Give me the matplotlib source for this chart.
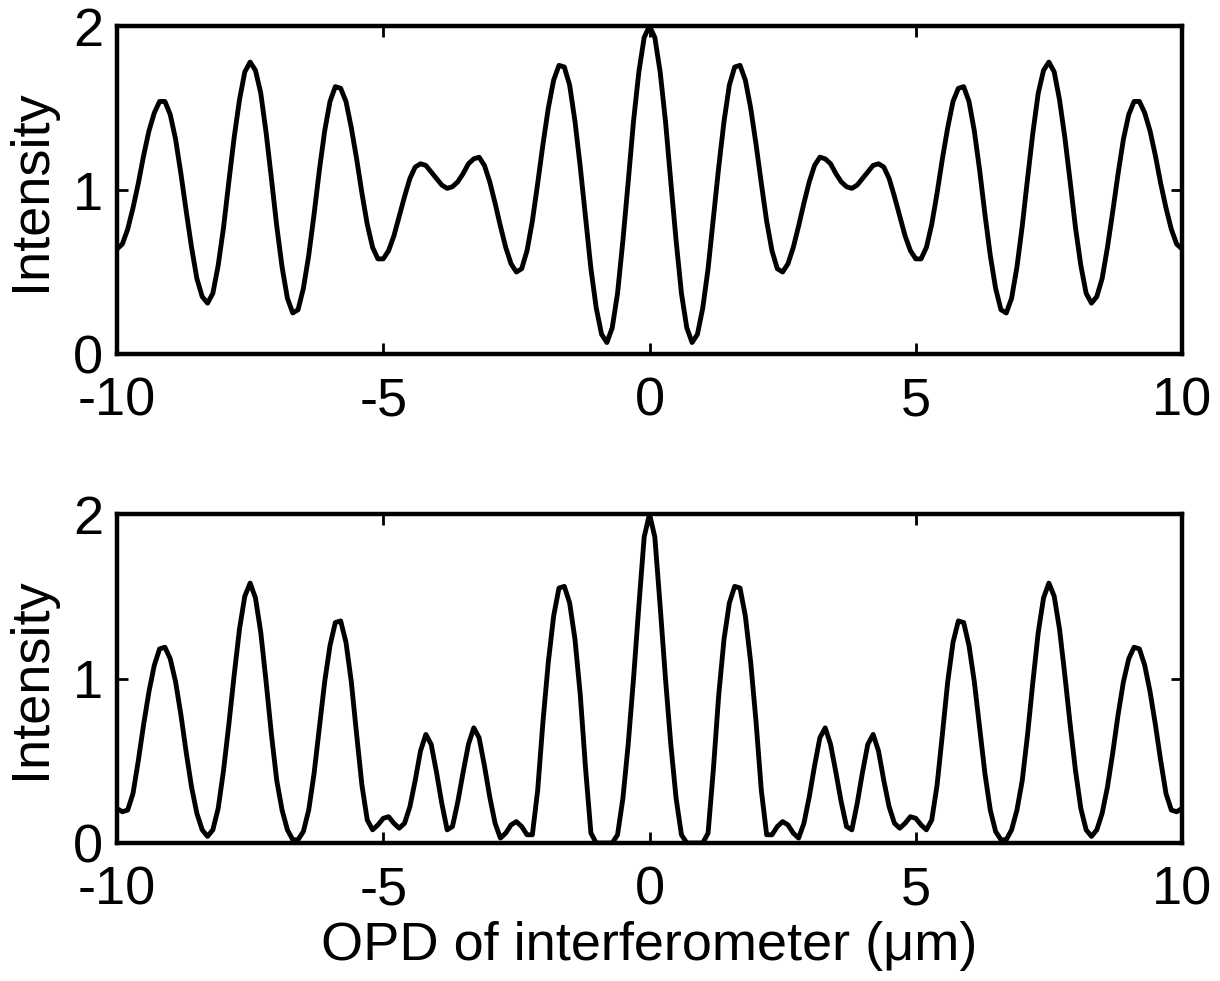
import numpy as np
import matplotlib
matplotlib.use("Agg")
import matplotlib.pyplot as plt

plt.rcParams['font.family'] = ['Liberation Sans', 'DejaVu Sans']
plt.rcParams['axes.unicode_minus'] = False

# OPD sample positions (um), -10 .. 10 in 0.1 steps
opd = np.linspace(-10, 10, 201)

# Top panel intensity (x = -10 ... 10)
intensity_top = [
    0.64, 0.67, 0.76, 0.89, 1.04, 1.21, 1.36, 1.47, 1.54, 1.54,
    1.46, 1.31, 1.10, 0.87, 0.65, 0.46, 0.35, 0.31, 0.37, 0.54,
    0.77, 1.05, 1.32, 1.55, 1.72, 1.78, 1.73, 1.59, 1.35, 1.07,
    0.78, 0.53, 0.34, 0.25, 0.27, 0.40, 0.60, 0.85, 1.12, 1.36,
    1.54, 1.63, 1.62, 1.54, 1.38, 1.19, 0.98, 0.79, 0.65, 0.58,
    0.58, 0.63, 0.72, 0.84, 0.96, 1.07, 1.14, 1.16, 1.15, 1.11,
    1.07, 1.03, 1.01, 1.02, 1.05, 1.10, 1.16, 1.19, 1.20, 1.15,
    1.05, 0.92, 0.78, 0.65, 0.55, 0.50, 0.52, 0.63, 0.81, 1.04,
    1.28, 1.50, 1.67, 1.76, 1.75, 1.64, 1.42, 1.14, 0.83, 0.52,
    0.28, 0.12, 0.07, 0.16, 0.37, 0.69, 1.05, 1.42, 1.72, 1.93,
    2.00,
    1.93, 1.72, 1.42, 1.05, 0.69, 0.37, 0.16, 0.07, 0.12, 0.28,
    0.52, 0.83, 1.14, 1.42, 1.64, 1.75, 1.76, 1.67, 1.50, 1.28,
    1.04, 0.81, 0.63, 0.52, 0.50, 0.55, 0.65, 0.78, 0.92, 1.05,
    1.15, 1.20, 1.19, 1.16, 1.10, 1.05, 1.02, 1.01, 1.03, 1.07,
    1.11, 1.15, 1.16, 1.14, 1.07, 0.96, 0.84, 0.72, 0.63, 0.58,
    0.58, 0.65, 0.79, 0.98, 1.19, 1.38, 1.54, 1.62, 1.63, 1.54,
    1.36, 1.12, 0.85, 0.60, 0.40, 0.27, 0.25, 0.34, 0.53, 0.78,
    1.07, 1.35, 1.59, 1.73, 1.78, 1.72, 1.55, 1.32, 1.05, 0.77,
    0.54, 0.37, 0.31, 0.35, 0.46, 0.65, 0.87, 1.10, 1.31, 1.46,
    1.54, 1.54, 1.47, 1.36, 1.21, 1.04, 0.89, 0.76, 0.67, 0.64,
]

# Bottom panel intensity (x = -10 ... 10)
intensity_bottom = [
    0.21, 0.19, 0.20, 0.30, 0.50, 0.72, 0.92, 1.08, 1.18, 1.19,
    1.12, 0.98, 0.78, 0.55, 0.34, 0.18, 0.08, 0.04, 0.08, 0.21,
    0.44, 0.72, 1.02, 1.30, 1.50, 1.58, 1.49, 1.28, 0.98, 0.66,
    0.38, 0.20, 0.08, 0.02, 0.02, 0.07, 0.20, 0.42, 0.70, 0.98,
    1.20, 1.34, 1.35, 1.22, 0.98, 0.66, 0.35, 0.14, 0.08, 0.11,
    0.15, 0.16, 0.12, 0.09, 0.12, 0.22, 0.38, 0.56, 0.66, 0.60,
    0.43, 0.24, 0.08, 0.10, 0.25, 0.43, 0.60, 0.70, 0.64, 0.47,
    0.28, 0.12, 0.03, 0.06, 0.11, 0.13, 0.10, 0.05, 0.05, 0.32,
    0.74, 1.10, 1.38, 1.55, 1.56, 1.46, 1.24, 0.90, 0.45, 0.06,
    0.00, 0.00, 0.00, 0.00, 0.05, 0.27, 0.60, 1.00, 1.44, 1.86,
    2.00,
    1.86, 1.44, 1.00, 0.60, 0.27, 0.05, 0.00, 0.00, 0.00, 0.00,
    0.06, 0.45, 0.90, 1.24, 1.46, 1.56, 1.55, 1.38, 1.10, 0.74,
    0.32, 0.05, 0.05, 0.10, 0.13, 0.11, 0.06, 0.03, 0.12, 0.28,
    0.47, 0.64, 0.70, 0.60, 0.43, 0.25, 0.10, 0.08, 0.24, 0.43,
    0.60, 0.66, 0.56, 0.38, 0.22, 0.12, 0.09, 0.12, 0.16, 0.15,
    0.11, 0.08, 0.14, 0.35, 0.66, 0.98, 1.22, 1.35, 1.34, 1.20,
    0.98, 0.70, 0.42, 0.20, 0.07, 0.02, 0.02, 0.08, 0.20, 0.38,
    0.66, 0.98, 1.28, 1.49, 1.58, 1.50, 1.30, 1.02, 0.72, 0.44,
    0.21, 0.08, 0.04, 0.08, 0.18, 0.34, 0.55, 0.78, 0.98, 1.12,
    1.19, 1.18, 1.08, 0.92, 0.72, 0.50, 0.30, 0.20, 0.19, 0.21,
]

xticks = [-10, -5, 0, 5, 10]
xtick_labels = ['-10', '-5', '0', '5', '10']
yticks = [0, 1, 2]
ytick_labels = ['0', '1', '2']
ylabel = 'Intensity'
xlabel = 'OPD of interferometer (\u03bcm)'

FS = 39

fig = plt.figure(figsize=(12.2, 9.81), dpi=100)
ax_top = fig.add_axes([117 / 1220, 1 - 354 / 981, 1065 / 1220, 328 / 981])
ax_bot = fig.add_axes([117 / 1220, 1 - 843 / 981, 1065 / 1220, 329 / 981])

for ax, data in ((ax_top, intensity_top), (ax_bot, intensity_bottom)):
    ax.plot(opd, data, color='black', lw=3.5, solid_joinstyle='round')
    ax.set_xlim(-10, 10)
    ax.set_ylim(0, 2)
    ax.set_xticks(xticks)
    ax.set_xticklabels(xtick_labels)
    ax.set_yticks(yticks)
    ax.set_yticklabels(ytick_labels)
    ax.tick_params(direction='in', length=8, width=2, labelsize=FS,
                   top=True, right=True, pad=10)
    ax.tick_params(axis='x', pad=16)
    for s in ax.spines.values():
        s.set_linewidth(3.2)
    ax.set_ylabel(ylabel, fontsize=FS, labelpad=12)

ax_bot.set_xlabel(xlabel, fontsize=FS, labelpad=4)

fig.savefig('out.png', dpi=100)
